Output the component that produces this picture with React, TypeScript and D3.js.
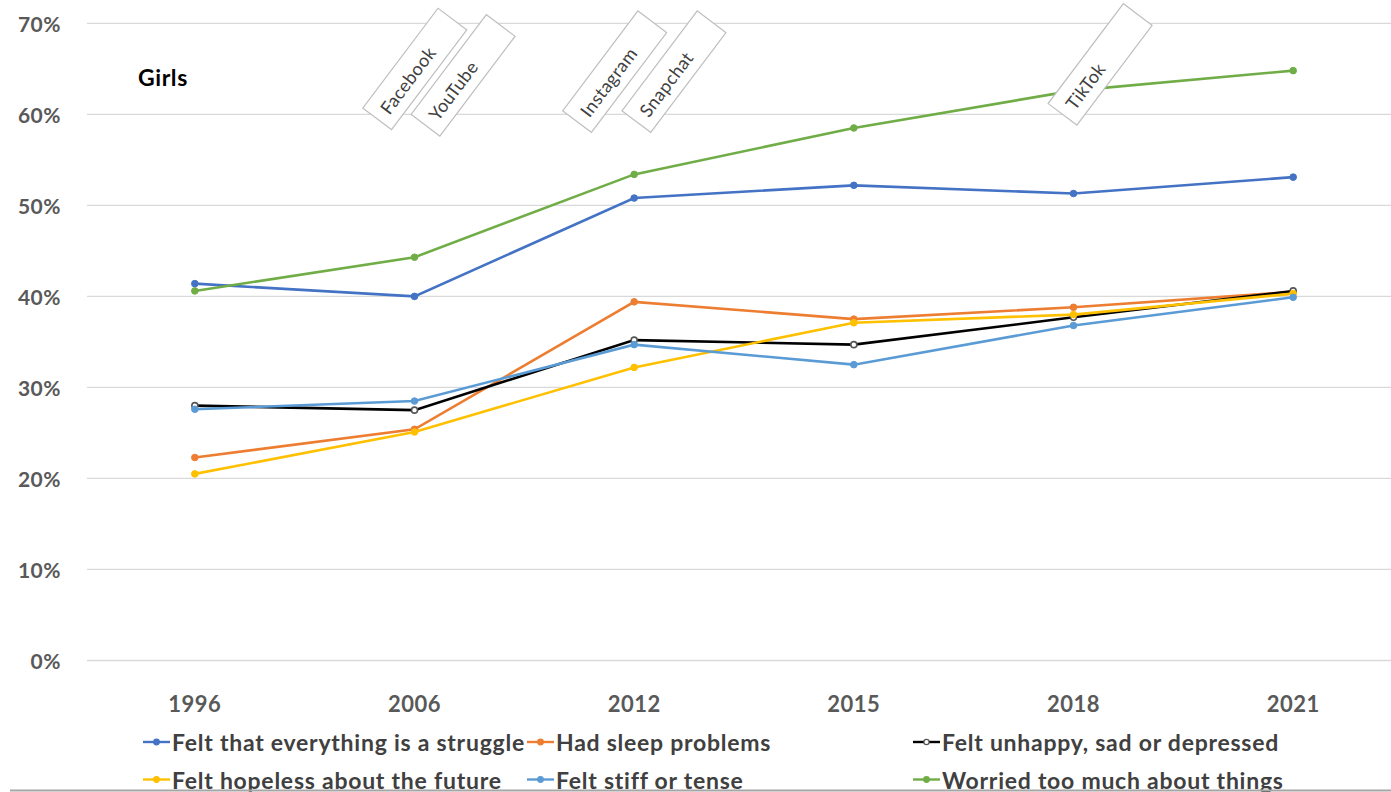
import React from "react";
import * as d3 from "d3";

const years = ["1996", "2006", "2012", "2015", "2018", "2021"];
const yTicks = [0, 10, 20, 30, 40, 50, 60, 70];

const struggle = [41.4, 40.0, 50.8, 52.2, 51.3, 53.1];
const sleep = [22.3, 25.4, 39.4, 37.5, 38.8, 40.5];
const unhappy = [28.0, 27.5, 35.2, 34.7, 37.7, 40.6];
const hopeless = [20.5, 25.1, 32.2, 37.1, 38.0, 40.3];
const stiff = [27.6, 28.5, 34.7, 32.5, 36.8, 39.9];
const worried = [40.6, 44.3, 53.4, 58.5, 62.6, 64.8];

const seriesNames = [
  "Felt that everything is a struggle",
  "Had sleep problems",
  "Felt unhappy, sad or depressed",
  "Felt hopeless about the future",
  "Felt stiff or tense",
  "Worried too much about things",
];
const seriesValues = [struggle, sleep, unhappy, hopeless, stiff, worried];
const seriesColors = ["#4472C4", "#ED7D31", "#000000", "#FFC000", "#5B9BD5", "#70AD47"];

// Platform launch annotations: position in units of year-steps from 1996, and height in %
const platforms = ["Facebook", "YouTube", "Instagram", "Snapchat", "TikTok"];
const platformStep = [0.83, 1.05, 1.74, 2.01, 3.95];
const platformLevel = [59.5, 58.8, 59.2, 59.2, 60.0];

const W = 1391;
const H = 792;
const FONT = "Lato, 'Open Sans', sans-serif";

export default function App() {
  const x = d3.scaleBand<string>().domain(years).range([85, 1403]).padding(0);
  const cx = (yr: string) => (x(yr) ?? 0) + x.bandwidth() / 2;
  const y = d3.scaleLinear().domain([0, 70]).range([660.5, 23.3]);
  const stepX = d3
    .scaleLinear()
    .domain([0, 1])
    .range([cx(years[0]), cx(years[1])]);

  const line = d3
    .line<number>()
    .x((_, i) => cx(years[i]))
    .y((v) => y(v));

  const legendCols = [143, 527, 913];
  const legendRows = [742, 779.5];

  return (
    <svg
      width={W}
      height={H}
      style={{ position: "fixed", left: 0, top: 0, background: "#fff" }}
      fontFamily={FONT}
    >
      <rect x={0} y={0} width={W} height={H} fill="#fff" />
      {/* gridlines and y ticks */}
      {yTicks.map((t) => (
        <g key={t}>
          <line x1={87} x2={W} y1={y(t)} y2={y(t)} stroke="#d9d9d9" strokeWidth={1.3} />
          <text
            x={61}
            y={y(t)}
            textAnchor="end"
            dominantBaseline="central"
            fontSize={21}
            fontWeight={700}
            letterSpacing={0.5}
            fill="#595959"
          >
            {t}%
          </text>
        </g>
      ))}
      {/* x labels */}
      {years.map((yr) => (
        <text
          key={yr}
          x={cx(yr)}
          y={703}
          textAnchor="middle"
          dominantBaseline="central"
          fontSize={22}
          fontWeight={700}
          letterSpacing={0.5}
          fill="#595959"
        >
          {yr}
        </text>
      ))}
      <text x={138} y={86} fontSize={23} fontWeight={700} letterSpacing={0.6} fill="#000">
        Girls
      </text>
      {/* series */}
      {seriesValues.map((vals, s) => (
        <g key={seriesNames[s]}>
          <path d={line(vals) ?? ""} fill="none" stroke={seriesColors[s]} strokeWidth={2.6} />
          {vals.map((v, i) => (
            <circle
              key={i}
              cx={cx(years[i])}
              cy={y(v)}
              r={s === 2 ? 3 : 3.3}
              fill={s === 2 ? "#fff" : seriesColors[s]}
              stroke={s === 2 ? "#555" : seriesColors[s]}
              strokeWidth={s === 2 ? 1.6 : 1}
            />
          ))}
        </g>
      ))}
      {/* platform annotations */}
      {platforms.map((p, i) => {
        const ax = stepX(platformStep[i]);
        const ay = y(platformLevel[i]);
        return (
          <g key={p} transform={`translate(${ax},${ay}) rotate(-53)`}>
            <rect x={0} y={-18} width={125} height={36} fill="#fff" stroke="#bfbfbf" strokeWidth={1.2} />
            <text
              x={10}
              y={1}
              dominantBaseline="central"
              fontSize={18}
              letterSpacing={0.4}
              fill="#404040"
            >
              {p}
            </text>
          </g>
        );
      })}
      {/* legend */}
      {seriesNames.map((name, s) => {
        const lx = legendCols[s % 3];
        const ly = legendRows[Math.floor(s / 3)];
        return (
          <g key={name}>
            <line x1={lx} x2={lx + 27} y1={ly} y2={ly} stroke={seriesColors[s]} strokeWidth={2.4} />
            <circle
              cx={lx + 13.5}
              cy={ly}
              r={s === 2 ? 2.6 : 2.8}
              fill={s === 2 ? "#fff" : seriesColors[s]}
              stroke={s === 2 ? "#555" : seriesColors[s]}
              strokeWidth={1.2}
            />
            <text
              x={lx + 29}
              y={ly}
              dominantBaseline="central"
              fontSize={23}
              fontWeight={700}
              letterSpacing={0.75}
              fill="#404040"
            >
              {name}
            </text>
          </g>
        );
      })}
      <line x1={10} x2={W} y1={790.5} y2={790.5} stroke="#a6a6a6" strokeWidth={2} />
    </svg>
  );
}
